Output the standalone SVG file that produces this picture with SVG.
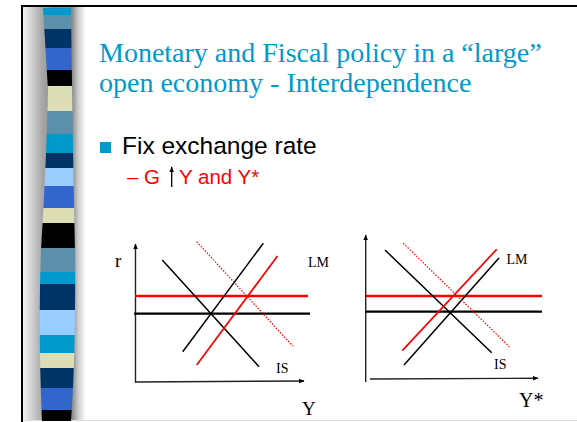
<svg xmlns="http://www.w3.org/2000/svg" width="577" height="422" viewBox="0 0 577 422">
<defs>
<style>
.title{font-family:"Liberation Serif","Times New Roman",serif;font-size:28px;fill:#0099CC}
.bul{font-family:"Liberation Sans",Arial,sans-serif;fill:#000}
.sub{font-family:"Liberation Sans",Arial,sans-serif;fill:#FF0000}
.lbl{font-family:"Liberation Serif","Times New Roman",serif;fill:#000}
.blk{stroke:#000;stroke-width:1.5;fill:none}
.red{stroke:#FF0000;stroke-width:1.7;fill:none}
.hred{stroke:#FF0000;stroke-width:2.3;fill:none}
.hblk{stroke:#000;stroke-width:2.3;fill:none}
.dot{stroke:#FF0000;stroke-width:1.2;stroke-dasharray:1.5 1.5;fill:none}
.axis{stroke:#222;stroke-width:1.4;fill:none}
</style>
<linearGradient id="shade" x1="0" y1="0" x2="1" y2="0">
<stop offset="0" stop-color="#f4f4f4"/>
<stop offset="0.3" stop-color="#a8a8a8"/>
<stop offset="0.5" stop-color="#888"/>
<stop offset="0.78" stop-color="#8a8a8a"/>
<stop offset="0.88" stop-color="#cfcfcf"/>
<stop offset="1" stop-color="#fff"/>
</linearGradient>
<clipPath id="strip">
<path d="M43,8 L71,8 Q73,170 75,250 Q76,350 71,421 L42,421 Q38,330 41,250 Q47,150 48,90 Q45,40 43,8 Z"/>
</clipPath>
<marker id="ah" viewBox="0 0 10 10" refX="9" refY="5" markerWidth="6" markerHeight="6" orient="auto-start-reverse" markerUnits="userSpaceOnUse">
<path d="M0,1 L10,5 L0,9 Z" fill="#000"/>
</marker>
</defs>
<rect width="577" height="422" fill="#fff"/>
<g id="slide-frame">
<rect x="23" y="6" width="63" height="415" fill="url(#shade)"/>
<line x1="22" y1="6" x2="577" y2="6" stroke="#000" stroke-width="2"/>
<line x1="22" y1="5" x2="22" y2="422" stroke="#000" stroke-width="2"/>
<line x1="23" y1="420.5" x2="577" y2="420.5" stroke="#ddd" stroke-width="1"/>
</g>
<g id="stripes" clip-path="url(#strip)">
<rect x="35" y="8" width="45" height="7" fill="#0099CC"/>
<rect x="35" y="15" width="45" height="14" fill="#5B8FAA"/>
<rect x="35" y="29" width="45" height="19" fill="#003366"/>
<rect x="35" y="48" width="45" height="22" fill="#3366CC"/>
<rect x="35" y="70" width="45" height="16" fill="#000"/>
<rect x="35" y="86" width="45" height="25" fill="#DEDEB6"/>
<rect x="35" y="111" width="45" height="23" fill="#5B8FAA"/>
<rect x="35" y="134" width="45" height="19" fill="#0099CC"/>
<rect x="35" y="153" width="45" height="15" fill="#003366"/>
<rect x="35" y="168" width="45" height="18" fill="#99CCFF"/>
<rect x="35" y="186" width="45" height="22" fill="#3366CC"/>
<rect x="35" y="208" width="45" height="15" fill="#DEDEB6"/>
<rect x="35" y="223" width="45" height="25" fill="#000"/>
<rect x="35" y="248" width="45" height="24" fill="#5B8FAA"/>
<rect x="35" y="272" width="45" height="12" fill="#0099CC"/>
<rect x="35" y="284" width="45" height="26" fill="#003366"/>
<rect x="35" y="310" width="45" height="25" fill="#99CCFF"/>
<rect x="35" y="335" width="45" height="18" fill="#0099CC"/>
<rect x="35" y="353" width="45" height="15" fill="#DEDEB6"/>
<rect x="35" y="368" width="45" height="20" fill="#003366"/>
<rect x="35" y="388" width="45" height="22" fill="#3366CC"/>
<rect x="35" y="410" width="45" height="12" fill="#000"/>
</g>
<g id="title">
<text class="title" x="99" y="62">Monetary and Fiscal policy in a “large”</text>
<text class="title" x="99" y="92">open economy - Interdependence</text>
</g>
<g id="bullet">
<rect x="100" y="142" width="11" height="11" fill="#0099CC"/>
<text class="bul" x="122" y="154" font-size="24.5">Fix exchange rate</text>
</g>
<g id="subbullet">
<text class="sub" x="127" y="184" font-size="20.5">– G</text>
<line x1="171.7" y1="187" x2="171.7" y2="167" stroke="#000" stroke-width="1.3" marker-end="url(#ah)"/>
<text class="sub" x="179" y="184" font-size="20.5">Y and Y*</text>
</g>
<g id="chart-home">
<line class="axis" x1="135.5" y1="382.5" x2="135.5" y2="244" marker-end="url(#ah)"/>
<line class="axis" x1="135" y1="382" x2="304" y2="381" marker-end="url(#ah)"/>
<line class="hred" x1="135" y1="296" x2="308" y2="296"/>
<line class="hblk" x1="134" y1="313.7" x2="310" y2="313.7"/>
<line class="blk" x1="162.3" y1="260" x2="259" y2="366.7"/>
<line class="blk" x1="182.7" y1="351.7" x2="263.3" y2="243.3"/>
<line class="red" x1="196.7" y1="365" x2="277.5" y2="256"/>
<line class="dot" x1="196.7" y1="241.7" x2="292.7" y2="346"/>
<text class="lbl" x="115" y="267" font-size="19">r</text>
<text class="lbl" x="308" y="267" font-size="14">LM</text>
<text class="lbl" x="276" y="373" font-size="14">IS</text>
<text class="lbl" x="302" y="415" font-size="19">Y</text>
</g>
<g id="chart-foreign">
<line class="axis" x1="365.7" y1="382" x2="365.7" y2="235" marker-end="url(#ah)"/>
<line class="axis" x1="370" y1="379" x2="538" y2="378.3" marker-end="url(#ah)"/>
<line class="hred" x1="366" y1="296" x2="542" y2="296"/>
<line class="hblk" x1="366" y1="311.7" x2="542" y2="311.7"/>
<line class="blk" x1="385" y1="250" x2="491.7" y2="352.7"/>
<line class="blk" x1="404" y1="365" x2="499" y2="258"/>
<line class="red" x1="402.3" y1="350.7" x2="496.7" y2="249.3"/>
<line class="dot" x1="403.3" y1="243.3" x2="509.3" y2="346.7"/>
<text class="lbl" x="506.5" y="263.5" font-size="14">LM</text>
<text class="lbl" x="494" y="368.5" font-size="14">IS</text>
<text class="lbl" x="519" y="407" font-size="20">Y*</text>
</g>
</svg>
